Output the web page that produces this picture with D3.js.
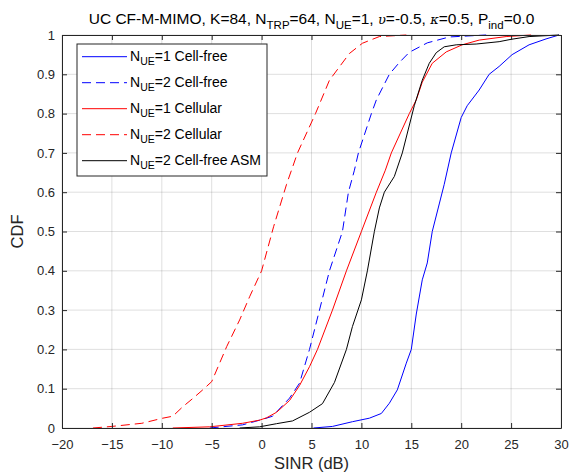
<!DOCTYPE html>
<html lang="en">
<head>
    <meta charset="UTF-8">
    <title>CDF of SINR</title>
    <script src="https://d3js.org/d3.v7.min.js"></script>
    <style>
        * {
            margin: 0;
            padding: 0;
            box-sizing: border-box;
        }

        body {
            background: #fff;
            overflow: hidden;
            font-family: 'Liberation Sans', Arial, sans-serif;
        }

        .tick text {
            font-size: 13px;
            font-family: 'Liberation Sans', Arial, sans-serif;
            fill: #262626;
        }

        .grid line {
            stroke: #262626;
            stroke-opacity: 0.15;
        }
    </style>
</head>
<body>
    <div id="chart"></div>

    <script>
        // axis ticks
        const xTicks = [-20, -15, -10, -5, 0, 5, 10, 15, 20, 25, 30];
        const yTicks = [0, 0.1, 0.2, 0.3, 0.4, 0.5, 0.6, 0.7, 0.8, 0.9, 1];

        // CDF points: [SINR dB, CDF]
        const cfN1 = [[5.2,0],[7.1,0.004],[9.1,0.016],[10.8,0.025],[12.0,0.037],[12.8,0.063],[13.6,0.097],[14.5,0.165],[15.0,0.2],[15.5,0.29],[16.1,0.377],[16.6,0.42],[17.1,0.5],[17.8,0.57],[18.3,0.62],[19.0,0.7],[20.0,0.79],[20.6,0.82],[21.8,0.86],[22.8,0.9],[23.8,0.92],[25.1,0.95],[26.8,0.975],[28.5,0.99],[29.8,1]];
        const cfN2 = [[-5.2,0],[-1.9,0.008],[0.1,0.022],[1.1,0.03],[2.8,0.076],[3.8,0.114],[4.8,0.2],[5.8,0.3],[6.8,0.4],[8.1,0.5],[8.7,0.6],[9.3,0.656],[9.7,0.7],[11.0,0.8],[11.5,0.835],[12.8,0.9],[13.8,0.93],[14.8,0.956],[16.6,0.98],[18.8,0.995],[22.5,1]];
        const cellN1 = [[-8.9,0],[-5.2,0.003],[-1.9,0.012],[-0.2,0.02],[0.5,0.026],[1.5,0.04],[2.8,0.07],[3.8,0.108],[4.8,0.156],[5.6,0.2],[7.1,0.3],[8.5,0.4],[10.0,0.5],[11.5,0.6],[12.4,0.656],[13.0,0.7],[14.8,0.8],[15.5,0.835],[16.1,0.88],[17.1,0.928],[18.5,0.957],[20.1,0.975],[21.8,0.987],[24.5,0.996],[27,1]];
        const cellN2 = [[-16.9,0],[-15,0.004],[-12,0.012],[-9.9,0.025],[-8.9,0.03],[-7.9,0.054],[-6.9,0.075],[-5.9,0.097],[-5,0.118],[-3.5,0.207],[-2.2,0.275],[-1.2,0.334],[0,0.4],[1.2,0.512],[2.5,0.62],[3.6,0.7],[5.4,0.8],[6.8,0.885],[8.8,0.953],[10.1,0.979],[11.8,0.996],[14.5,1]];
        const cfN2Asm = [[-2.2,0],[-0.2,0.003],[1.5,0.011],[3.1,0.018],[4.8,0.04],[6.1,0.062],[7.3,0.116],[8.5,0.2],[9.1,0.258],[10.0,0.326],[10.6,0.4],[11.3,0.5],[11.8,0.56],[12.3,0.6],[13.3,0.64],[14.1,0.7],[15.3,0.82],[16.1,0.885],[16.8,0.928],[17.5,0.955],[18.3,0.97],[19.5,0.975],[21.5,0.977],[23.8,0.983],[25,0.989],[26.8,0.996],[29.8,1]];

        const series = [
            { nue: '1', label: ' Cell-free', data: cfN1, color: '#0000ff', dash: null },
            { nue: '2', label: ' Cell-free', data: cfN2, color: '#0000ff', dash: '9,5' },
            { nue: '1', label: ' Cellular', data: cellN1, color: '#ff0000', dash: null },
            { nue: '2', label: ' Cellular', data: cellN2, color: '#ff0000', dash: '9,5' },
            { nue: '2', label: ' Cell-free ASM', data: cfN2Asm, color: '#000000', dash: null }
        ];

        const width = 571;
        const height = 476;
        const margin = { top: 35, right: 10, bottom: 48, left: 62 };

        const svg = d3.select('#chart')
            .append('svg')
            .attr('width', width)
            .attr('height', height)
            .style('font-family', "'Liberation Sans', Arial, sans-serif");

        const x = d3.scaleLinear().domain([-20, 30]).range([margin.left, width - margin.right]);
        const y = d3.scaleLinear().domain([0, 1]).range([height - margin.bottom, margin.top]);

        // grid
        svg.append('g')
            .attr('class', 'grid')
            .selectAll('line')
            .data(xTicks)
            .join('line')
            .attr('x1', d => x(d)).attr('x2', d => x(d))
            .attr('y1', y(0)).attr('y2', y(1));

        svg.append('g')
            .attr('class', 'grid')
            .selectAll('line')
            .data(yTicks)
            .join('line')
            .attr('x1', x(-20)).attr('x2', x(30))
            .attr('y1', d => y(d)).attr('y2', d => y(d));

        // curves
        const line = d3.line()
            .x(d => x(d[0]))
            .y(d => y(d[1]));

        svg.append('g')
            .selectAll('path')
            .data(series)
            .join('path')
            .attr('fill', 'none')
            .attr('stroke', d => d.color)
            .attr('stroke-width', 1)
            .attr('stroke-dasharray', d => d.dash)
            .attr('d', d => line(d.data));

        // axes, MATLAB style ticks pointing in
        svg.append('g')
            .attr('transform', `translate(0,${y(0)})`)
            .call(d3.axisBottom(x).tickValues(xTicks).tickSizeInner(-5).tickSizeOuter(0).tickPadding(12));
        svg.append('g')
            .attr('transform', `translate(0,${y(1)})`)
            .call(d3.axisTop(x).tickValues(xTicks).tickSizeInner(-5).tickSizeOuter(0).tickFormat(''));
        svg.append('g')
            .attr('transform', `translate(${x(-20)},0)`)
            .call(d3.axisLeft(y).tickValues(yTicks).tickSizeInner(-5).tickSizeOuter(0).tickPadding(7).tickFormat(d3.format('')));
        svg.append('g')
            .attr('transform', `translate(${x(30)},0)`)
            .call(d3.axisRight(y).tickValues(yTicks).tickSizeInner(-5).tickSizeOuter(0).tickFormat(''));

        svg.selectAll('.domain').attr('stroke', '#262626');
        svg.selectAll('.tick line').attr('stroke', '#262626');

        // axis labels
        svg.append('text')
            .attr('x', (x(-20) + x(30)) / 2)
            .attr('y', 469)
            .attr('text-anchor', 'middle')
            .attr('font-size', 16.5)
            .attr('fill', '#262626')
            .text('SINR (dB)');

        svg.append('text')
            .attr('transform', `translate(23,${(y(0) + y(1)) / 2}) rotate(-90)`)
            .attr('text-anchor', 'middle')
            .attr('font-size', 16.5)
            .attr('fill', '#262626')
            .text('CDF');

        // title with subscripts
        const title = svg.append('text')
            .attr('x', (x(-20) + x(30)) / 2)
            .attr('y', 24)
            .attr('text-anchor', 'middle')
            .attr('font-size', 15.5)
            .attr('fill', '#000');

        const titleParts = [
            ['UC CF-M-MIMO, K=84, N', 'n'], ['TRP', 's'], ['=64, N', 'n'], ['UE', 's'],
            ['=1, ', 'n'], ['\u03C5', 'g'], ['=-0.5, ', 'n'], ['\u03BA', 'g'], ['=0.5, P', 'n'], ['ind', 's'], ['=0.0', 'n']
        ];
        let prev = 'n';
        titleParts.forEach(([t, k]) => {
            const ts = title.append('tspan').text(t);
            if (k === 's') {
                ts.attr('dy', 5).attr('font-size', 11.5);
            } else if (prev === 's') {
                ts.attr('dy', -5);
            }
            if (k === 'g') ts.attr('font-family', "'DejaVu Serif', serif").attr('font-style', 'italic').attr('font-size', 13);
            prev = k;
        });

        // legend
        const legend = svg.append('g').attr('transform', 'translate(77,44)');
        legend.append('rect')
            .attr('width', 190)
            .attr('height', 132)
            .attr('fill', '#fff')
            .attr('stroke', '#262626')
            .attr('stroke-width', 1);

        const item = legend.selectAll('g.item')
            .data(series)
            .join('g')
            .attr('class', 'item')
            .attr('transform', (d, i) => `translate(0,${12.7 + i * 26})`);

        item.append('line')
            .attr('x1', 5).attr('x2', 50)
            .attr('stroke', d => d.color)
            .attr('stroke-width', 1)
            .attr('stroke-dasharray', d => d.dash);

        const lt = item.append('text')
            .attr('x', 53)
            .attr('y', 4)
            .attr('font-size', 14)
            .attr('fill', '#000');
        lt.append('tspan').text('N');
        lt.append('tspan').attr('dy', 4).attr('font-size', 10.5).text('UE');
        lt.append('tspan').attr('dy', -4).text(d => '=' + d.nue + d.label);
    </script>
</body>
</html>
